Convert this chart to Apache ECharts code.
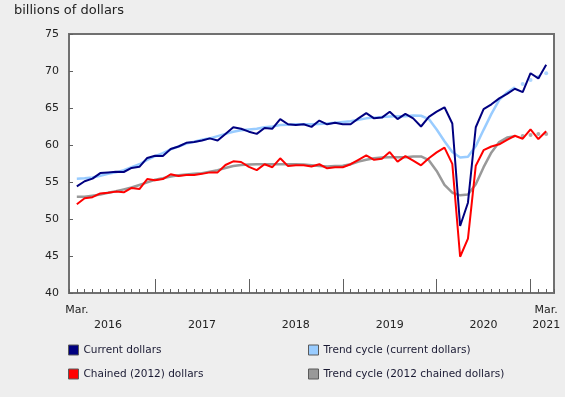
<!DOCTYPE html>
<html><head><meta charset="utf-8">
<script src="https://cdn.jsdelivr.net/npm/echarts@6/dist/echarts.min.js"></script>
<style>html,body{margin:0;padding:0;background:#eeeeee;}#c{width:565px;height:397px;}</style>
</head><body><div id="c"></div>
<script>
// Months (categories)
const months = [
  '2016-03','2016-04','2016-05','2016-06','2016-07','2016-08','2016-09','2016-10','2016-11','2016-12',
  '2017-01','2017-02','2017-03','2017-04','2017-05','2017-06','2017-07','2017-08','2017-09','2017-10','2017-11','2017-12',
  '2018-01','2018-02','2018-03','2018-04','2018-05','2018-06','2018-07','2018-08','2018-09','2018-10','2018-11','2018-12',
  '2019-01','2019-02','2019-03','2019-04','2019-05','2019-06','2019-07','2019-08','2019-09','2019-10','2019-11','2019-12',
  '2020-01','2020-02','2020-03','2020-04','2020-05','2020-06','2020-07','2020-08','2020-09','2020-10','2020-11','2020-12',
  '2021-01','2021-02','2021-03'
];
// Series values, billions of dollars
const current = [
  54.4,55.1,55.45,56.2,56.3,56.4,56.35,56.9,57.05,58.25,
  58.55,58.5,59.45,59.8,60.3,60.4,60.6,60.9,60.6,61.5,
  62.4,62.2,61.8,61.5,62.3,62.2,63.5,62.8,62.7,62.8,
  62.45,63.3,62.8,63.0,62.8,62.8,63.6,64.3,63.6,63.7,
  64.5,63.5,64.2,63.6,62.5,63.8,64.5,65.1,62.9,49.05,
  52.2,62.4,64.85,65.5,66.3,66.9,67.6,67.15,69.7,69.0,70.85
];
const chained = [
  52.0,52.8,52.95,53.45,53.55,53.7,53.6,54.2,54.05,55.4,
  55.25,55.4,56.05,55.8,55.95,55.95,56.1,56.3,56.3,57.3,
  57.8,57.7,57.05,56.6,57.4,57.0,58.2,57.15,57.25,57.25,
  57.1,57.4,56.85,57.0,57.0,57.4,58.0,58.6,58.0,58.15,
  59.05,57.75,58.5,57.9,57.25,58.2,59.0,59.65,57.45,44.9,
  47.35,57.2,59.3,59.8,60.1,60.7,61.25,60.85,62.1,60.8,61.85
];
const trendCurrent = [
  55.45,55.5,55.6,55.85,56.1,56.3,56.6,57.0,57.4,58.0,
  58.5,58.9,59.4,59.8,60.2,60.45,60.7,60.9,61.2,61.5,
  61.8,62.0,62.1,62.2,62.4,62.5,62.7,62.75,62.8,62.8,
  62.8,62.85,62.9,63.0,63.1,63.2,63.4,63.6,63.7,63.8,
  63.85,63.9,63.9,64.0,63.95,63.5,62.1,60.5,59.05,58.3,
  58.4,59.85,62.05,64.2,66.1,67.1,67.8,68.25,68.8,69.2,69.7
];
const trendChained = [
  53.0,53.0,53.15,53.3,53.55,53.75,54.0,54.25,54.6,54.95,
  55.3,55.5,55.75,55.9,56.0,56.1,56.2,56.4,56.6,56.9,
  57.15,57.3,57.35,57.4,57.4,57.4,57.4,57.4,57.4,57.35,
  57.25,57.15,57.1,57.15,57.2,57.4,57.75,58.0,58.2,58.3,
  58.35,58.35,58.35,58.45,58.45,57.95,56.5,54.6,53.55,53.2,
  53.3,54.7,57.0,59.0,60.4,61.0,61.2,61.2,61.35,61.5,61.5
];
// First month whose trend-cycle value is provisional (drawn as dots)
const provisionalFrom = '2020-12';
// Tick labels
const tickLabels = {
  '2016-03':'Mar.', '2016-07':'\n2016', '2017-07':'\n2017', '2018-07':'\n2018',
  '2019-07':'\n2019', '2020-07':'\n2020', '2021-03':'Mar.\n2021'
};
const yTickLabels = ['40','45','50','55','60','65','70','75'];
const yearStartMonth = '01';
const names = ['Current dollars','Trend cycle (current dollars)','Chained (2012) dollars','Trend cycle (2012 chained dollars)'];
const colors = ['#000080','#99ccff','#ff0000','#999999'];

const FONT = 'DejaVu Sans';
const pIdx = months.indexOf(provisionalFrom);
const pairs = (arr, keep) => arr.map((v, i) => [i, keep(i) ? v : null]);
const axisCats = [''].concat(months, ['']);
const yMin = Number(yTickLabels[0]), yMax = Number(yTickLabels[yTickLabels.length - 1]);

const chart = echarts.init(document.getElementById('c'), null, {renderer: 'canvas'});
chart.setOption({
  animation: false,
  backgroundColor: '#eeeeee',
  textStyle: {fontFamily: FONT},
  title: {
    text: 'billions of dollars', left: 14, top: 4, padding: 0,
    textStyle: {fontFamily: FONT, fontSize: 13, fontWeight: 'normal', color: '#222'}
  },
  grid: {
    left: 69, right: 11, top: 34, bottom: 104,
    show: true, backgroundColor: '#ffffff', borderColor: '#707070', borderWidth: 2,
    containLabel: false
  },
  xAxis: [
    {
      type: 'category', data: axisCats, boundaryGap: false, position: 'bottom',
      axisLine: {show: false, onZero: false},
      axisTick: {show: true, inside: true, length: 4, interval: 0, lineStyle: {color: '#606060', width: 1}},
      axisLabel: {show: false}, splitLine: {show: false}
    },
    {
      type: 'category', data: axisCats, boundaryGap: false, position: 'bottom',
      axisLine: {show: false, onZero: false},
      axisTick: {
        show: true, inside: true, length: 14, lineStyle: {color: '#606060', width: 1},
        interval: (idx, val) => !!val && val.slice(5) === yearStartMonth
      },
      axisLabel: {
        interval: 0, margin: 10, fontFamily: FONT, fontSize: 11, color: '#222', lineHeight: 15,
        formatter: (val) => tickLabels[val] || ''
      },
      splitLine: {show: false}
    },
    {
      type: 'value', min: -1, max: 61, interval: 1, position: 'bottom', show: false
    }
  ],
  yAxis: [
    {type: 'value', min: yMin, max: yMax, interval: 5, show: false},
    {
      type: 'category', data: yTickLabels, boundaryGap: false, position: 'left',
      axisLine: {show: false, onZero: false},
      axisTick: {show: true, inside: true, length: 4, interval: 0, lineStyle: {color: '#606060', width: 1}},
      axisLabel: {interval: 0, margin: 10, fontFamily: FONT, fontSize: 11, color: '#222'},
      splitLine: {show: false}
    }
  ],
  legend: [
    {data: [names[0]], left: 68, top: 344},
    {data: [names[1]], left: 308, top: 344},
    {data: [names[2]], left: 68, top: 368},
    {data: [names[3]], left: 308, top: 368}
  ].map(l => Object.assign(l, {
    orient: 'horizontal', padding: 0, icon: 'rect', itemWidth: 10, itemHeight: 10, itemGap: 5,
    selectedMode: false,
    itemStyle: {borderColor: '#5a5a5a', borderWidth: 1},
    textStyle: {fontFamily: FONT, fontSize: 10.5, color: '#1a1a33', lineHeight: 12, padding: [0,0,0,0]}
  })),
  series: [
    {name: names[1], type: 'line', xAxisIndex: 2, yAxisIndex: 0, data: pairs(trendCurrent, i => i < pIdx), symbol: 'none',
     z: 2, itemStyle: {color: colors[1]}, lineStyle: {color: colors[1], width: 2.5}},
    {name: names[1] + ' (provisional)', type: 'scatter', xAxisIndex: 2, yAxisIndex: 0,
     data: pairs(trendCurrent, i => i >= pIdx).filter(d => d[1] !== null), symbol: 'circle', symbolSize: 4,
     z: 2, itemStyle: {color: colors[1]}},
    {name: names[3], type: 'line', xAxisIndex: 2, yAxisIndex: 0, data: pairs(trendChained, i => i < pIdx), symbol: 'none',
     z: 2, itemStyle: {color: colors[3]}, lineStyle: {color: colors[3], width: 2.5}},
    {name: names[3] + ' (provisional)', type: 'scatter', xAxisIndex: 2, yAxisIndex: 0,
     data: pairs(trendChained, i => i >= pIdx).filter(d => d[1] !== null), symbol: 'circle', symbolSize: 4,
     z: 2, itemStyle: {color: colors[3]}},
    {name: names[0], type: 'line', xAxisIndex: 2, yAxisIndex: 0, data: pairs(current, () => true), symbol: 'none',
     z: 3, itemStyle: {color: colors[0]}, lineStyle: {color: colors[0], width: 2}},
    {name: names[2], type: 'line', xAxisIndex: 2, yAxisIndex: 0, data: pairs(chained, () => true), symbol: 'none',
     z: 3, itemStyle: {color: colors[2]}, lineStyle: {color: colors[2], width: 2}}
  ]
});
</script>
</body></html>
